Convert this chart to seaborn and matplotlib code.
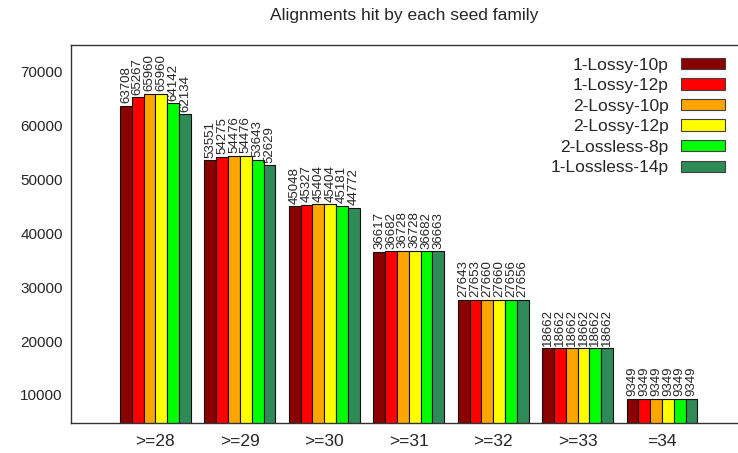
import matplotlib
matplotlib.use("Agg")
import matplotlib.pyplot as plt
import seaborn as sns
import pandas as pd

groups = [">=28", ">=29", ">=30", ">=31", ">=32", ">=33", "=34"]
series = ["1-Lossy-10p", "1-Lossy-12p", "2-Lossy-10p", "2-Lossy-12p",
          "2-Lossless-8p", "1-Lossless-14p"]
lossy1_10 = [63708, 53551, 45048, 36617, 27643, 18662, 9349]
lossy1_12 = [65267, 54275, 45327, 36682, 27653, 18662, 9349]
lossy2_10 = [65960, 54476, 45404, 36728, 27660, 18662, 9349]
lossy2_12 = [65960, 54476, 45404, 36728, 27660, 18662, 9349]
lossless2_8 = [64142, 53643, 45181, 36682, 27656, 18662, 9349]
lossless1_14 = [62134, 52629, 44772, 36663, 27656, 18662, 9349]
colors = ["#8b0000", "#ff0000", "#ffa500", "#ffff00", "#00ff00", "#2e8b57"]
title = "Alignments hit by each seed family"

values = [lossy1_10, lossy1_12, lossy2_10, lossy2_12, lossless2_8, lossless1_14]
rows = []
for s, vals in zip(series, values):
    for g, v in zip(groups, vals):
        rows.append({"group": g, "series": s, "value": v})
df = pd.DataFrame(rows)

sns.set_style("white")
plt.rcParams["font.family"] = ["Liberation Sans", "DejaVu Sans"]

fig = plt.figure(figsize=(7.38, 4.53), dpi=100)
ax = fig.add_axes([71/738, 30/453, 1 - 71/738, (423-45)/453])

sns.barplot(data=df, x="group", y="value", hue="series", order=groups,
            hue_order=series, palette=colors, width=0.84, saturation=1,
            edgecolor="#101010", linewidth=0.8, ax=ax, legend=True)

for cont in ax.containers:
    ax.bar_label(cont, rotation=90, padding=2, fontsize=9.5)

ax.set_ylim(4800, 75000)
ax.set_xlim(-1.0, 6.9)
ax.set_yticks([10000, 20000, 30000, 40000, 50000, 60000, 70000])
ax.set_xlabel("")
ax.set_ylabel("")
ax.set_title(title, fontsize=12.5, pad=18)
ax.tick_params(axis="y", direction="in", length=5, width=0.8, color="#333333",
               labelsize=11, pad=6)
ax.tick_params(axis="x", length=0, labelsize=12.5, pad=8)
for side in ["left", "top", "bottom"]:
    ax.spines[side].set_color("#333333")
    ax.spines[side].set_linewidth(1)
ax.spines["right"].set_visible(False)

leg = ax.legend(loc="upper right", bbox_to_anchor=(0.991, 0.985), frameon=False,
                markerfirst=False, handlelength=2.55, handleheight=0.63,
                labelspacing=0.32, handletextpad=0.7, fontsize=12.5,
                borderaxespad=0)
for h in leg.legend_handles:
    h.set_edgecolor("#404040")

fig.savefig("out.png", dpi=100)
